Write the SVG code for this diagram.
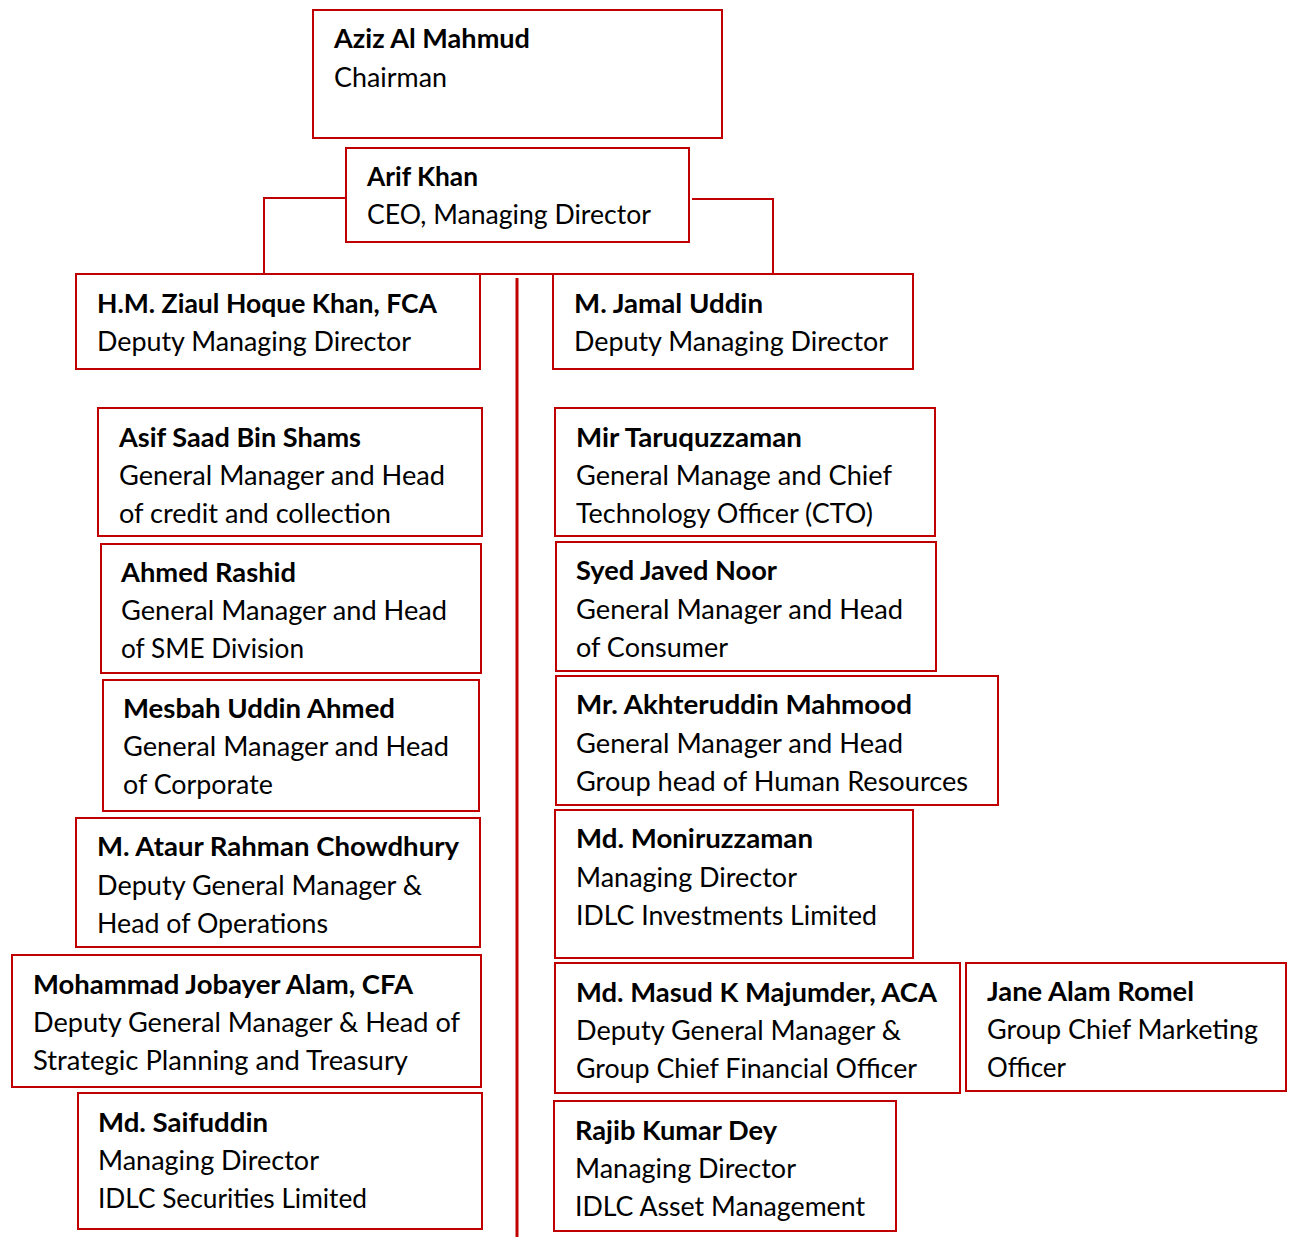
<svg xmlns="http://www.w3.org/2000/svg" width="1292" height="1237" viewBox="0 0 1292 1237">
  <style>
    .box { fill: #ffffff; stroke: #C00000; stroke-width: 2; }
    .wire { fill: none; stroke: #C00000; stroke-width: 2; }
    .spine { fill: none; stroke: #C00000; stroke-width: 3; }
    text { font-family: Lato, "Open Sans", "Liberation Sans", sans-serif; font-size: 27px; fill: #000000; }
    .name { font-weight: bold; }
  </style>
  <rect width="1292" height="1237" fill="#ffffff"/>

  <g id="connectors">
    <path class="wire" d="M346 198 H264 V280"/>
    <path class="wire" d="M692 199 H773 V279"/>
    <path class="wire" d="M264 274 H773"/>
    <path class="spine" d="M517 278 V1237"/>
  </g>

  <g id="chairman">
    <rect class="box" x="313" y="10" width="409" height="128"/>
    <text class="name" x="334" y="48" textLength="196" lengthAdjust="spacingAndGlyphs">Aziz Al Mahmud</text>
    <text x="334" y="87" textLength="113" lengthAdjust="spacingAndGlyphs">Chairman</text>
  </g>

  <g id="ceo">
    <rect class="box" x="346" y="148" width="343" height="94"/>
    <text class="name" x="367" y="186" textLength="111" lengthAdjust="spacingAndGlyphs">Arif Khan</text>
    <text x="367" y="224" textLength="284" lengthAdjust="spacingAndGlyphs">CEO, Managing Director</text>
  </g>

  <g id="dmd-left">
    <rect class="box" x="76" y="274" width="404" height="95"/>
    <text class="name" x="97" y="313" textLength="340" lengthAdjust="spacingAndGlyphs">H.M. Ziaul Hoque Khan, FCA</text>
    <text x="97" y="351" textLength="314" lengthAdjust="spacingAndGlyphs">Deputy Managing Director</text>
  </g>

  <g id="dmd-right">
    <rect class="box" x="553" y="274" width="360" height="95"/>
    <text class="name" x="574" y="313" textLength="189" lengthAdjust="spacingAndGlyphs">M. Jamal Uddin</text>
    <text x="574" y="351" textLength="314" lengthAdjust="spacingAndGlyphs">Deputy Managing Director</text>
  </g>

  <g id="asif">
    <rect class="box" x="98" y="408" width="384" height="128"/>
    <text class="name" x="119" y="447" textLength="242" lengthAdjust="spacingAndGlyphs">Asif Saad Bin Shams</text>
    <text x="119" y="485" textLength="326" lengthAdjust="spacingAndGlyphs">General Manager and Head</text>
    <text x="119" y="523" textLength="272" lengthAdjust="spacingAndGlyphs">of credit and collection</text>
  </g>

  <g id="ahmed">
    <rect class="box" x="101" y="544" width="380" height="129"/>
    <text class="name" x="121" y="582" textLength="175" lengthAdjust="spacingAndGlyphs">Ahmed Rashid</text>
    <text x="121" y="620" textLength="326" lengthAdjust="spacingAndGlyphs">General Manager and Head</text>
    <text x="121" y="658" textLength="183" lengthAdjust="spacingAndGlyphs">of SME Division</text>
  </g>

  <g id="mesbah">
    <rect class="box" x="103" y="680" width="376" height="131"/>
    <text class="name" x="123" y="718" textLength="272" lengthAdjust="spacingAndGlyphs">Mesbah Uddin Ahmed</text>
    <text x="123" y="756" textLength="326" lengthAdjust="spacingAndGlyphs">General Manager and Head</text>
    <text x="123" y="794" textLength="150" lengthAdjust="spacingAndGlyphs">of Corporate</text>
  </g>

  <g id="ataur">
    <rect class="box" x="76" y="818" width="404" height="129"/>
    <text class="name" x="97" y="856" textLength="362" lengthAdjust="spacingAndGlyphs">M. Ataur Rahman Chowdhury</text>
    <text x="97" y="895" textLength="325" lengthAdjust="spacingAndGlyphs">Deputy General Manager &amp;</text>
    <text x="97" y="933" textLength="231" lengthAdjust="spacingAndGlyphs">Head of Operations</text>
  </g>

  <g id="jobayer">
    <rect class="box" x="12" y="955" width="469" height="132"/>
    <text class="name" x="33" y="994" textLength="380" lengthAdjust="spacingAndGlyphs">Mohammad Jobayer Alam, CFA</text>
    <text x="33" y="1032" textLength="427" lengthAdjust="spacingAndGlyphs">Deputy General Manager &amp; Head of</text>
    <text x="33" y="1070" textLength="375" lengthAdjust="spacingAndGlyphs">Strategic Planning and Treasury</text>
  </g>

  <g id="saifuddin">
    <rect class="box" x="78" y="1093" width="404" height="136"/>
    <text class="name" x="98" y="1132" textLength="170" lengthAdjust="spacingAndGlyphs">Md. Saifuddin</text>
    <text x="98" y="1170" textLength="221" lengthAdjust="spacingAndGlyphs">Managing Director</text>
    <text x="98" y="1208" textLength="269" lengthAdjust="spacingAndGlyphs">IDLC Securities Limited</text>
  </g>

  <g id="taruquzzaman">
    <rect class="box" x="555" y="408" width="380" height="128"/>
    <text class="name" x="576" y="447" textLength="226" lengthAdjust="spacingAndGlyphs">Mir Taruquzzaman</text>
    <text x="576" y="485" textLength="316" lengthAdjust="spacingAndGlyphs">General Manage and Chief</text>
    <text x="576" y="523" textLength="297" lengthAdjust="spacingAndGlyphs">Technology Officer (CTO)</text>
  </g>

  <g id="syed">
    <rect class="box" x="556" y="542" width="380" height="129"/>
    <text class="name" x="576" y="580" textLength="201" lengthAdjust="spacingAndGlyphs">Syed Javed Noor</text>
    <text x="576" y="619" textLength="327" lengthAdjust="spacingAndGlyphs">General Manager and Head</text>
    <text x="576" y="657" textLength="152" lengthAdjust="spacingAndGlyphs">of Consumer</text>
  </g>

  <g id="akhteruddin">
    <rect class="box" x="556" y="676" width="442" height="129"/>
    <text class="name" x="576" y="714" textLength="336" lengthAdjust="spacingAndGlyphs">Mr. Akhteruddin Mahmood</text>
    <text x="576" y="753" textLength="327" lengthAdjust="spacingAndGlyphs">General Manager and Head</text>
    <text x="576" y="791" textLength="392" lengthAdjust="spacingAndGlyphs">Group head of Human Resources</text>
  </g>

  <g id="moniruzzaman">
    <rect class="box" x="555" y="810" width="358" height="148"/>
    <text class="name" x="576" y="848" textLength="237" lengthAdjust="spacingAndGlyphs">Md. Moniruzzaman</text>
    <text x="576" y="887" textLength="221" lengthAdjust="spacingAndGlyphs">Managing Director</text>
    <text x="576" y="925" textLength="301" lengthAdjust="spacingAndGlyphs">IDLC Investments Limited</text>
  </g>

  <g id="masud">
    <rect class="box" x="555" y="963" width="405" height="130"/>
    <text class="name" x="576" y="1002" textLength="361" lengthAdjust="spacingAndGlyphs">Md. Masud K Majumder, ACA</text>
    <text x="576" y="1040" textLength="325" lengthAdjust="spacingAndGlyphs">Deputy General Manager &amp;</text>
    <text x="576" y="1078" textLength="341" lengthAdjust="spacingAndGlyphs">Group Chief Financial Officer</text>
  </g>

  <g id="jane">
    <rect class="box" x="966" y="963" width="320" height="128"/>
    <text class="name" x="987" y="1001" textLength="207" lengthAdjust="spacingAndGlyphs">Jane Alam Romel</text>
    <text x="987" y="1039" textLength="271" lengthAdjust="spacingAndGlyphs">Group Chief Marketing</text>
    <text x="987" y="1077" textLength="79" lengthAdjust="spacingAndGlyphs">Officer</text>
  </g>

  <g id="rajib">
    <rect class="box" x="554" y="1101" width="342" height="130"/>
    <text class="name" x="575" y="1140" textLength="202" lengthAdjust="spacingAndGlyphs">Rajib Kumar Dey</text>
    <text x="575" y="1178" textLength="221" lengthAdjust="spacingAndGlyphs">Managing Director</text>
    <text x="575" y="1216" textLength="290" lengthAdjust="spacingAndGlyphs">IDLC Asset Management</text>
  </g>
</svg>
